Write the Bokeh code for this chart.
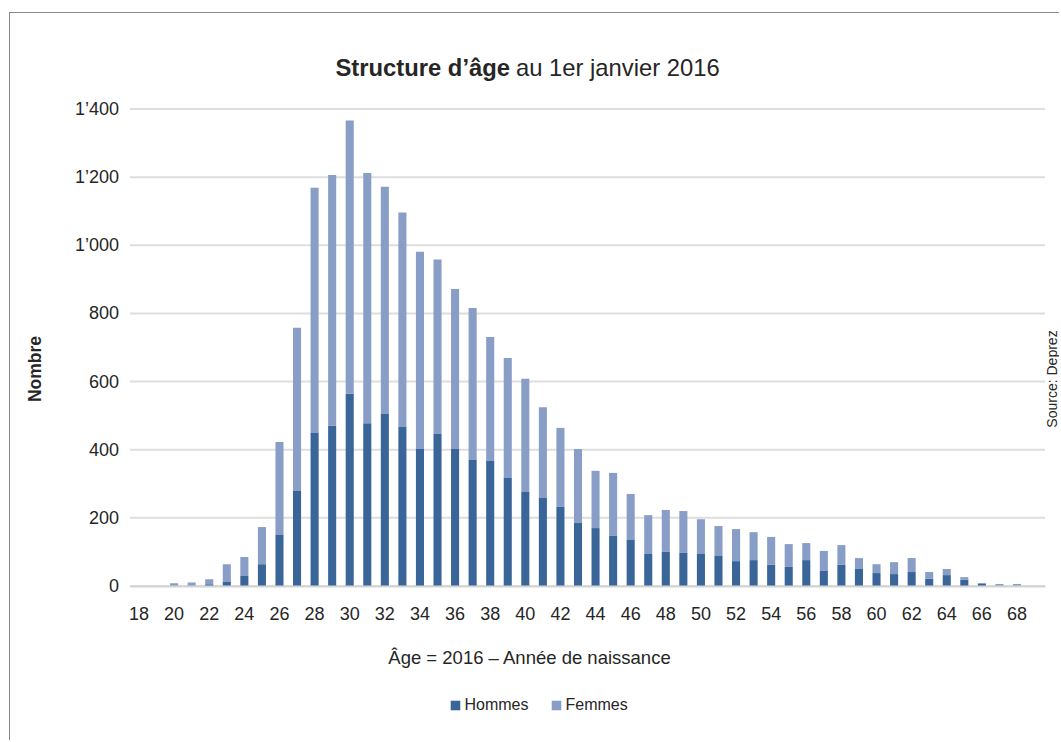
import math
from bokeh.plotting import figure
from bokeh.models import (ColumnDataSource, Label, Legend, LegendItem, FixedTicker,
                          Range1d)
from bokeh.embed import file_html
from bokeh.resources import INLINE

# ---------------- data ----------------
ages = list(range(20, 69))
hommes = [0, 0, 5, 12, 29, 64, 150, 279, 449, 470,
          564, 478, 505, 467, 402, 446, 402, 370, 367, 317,
          276, 258, 232, 185, 170, 147, 135, 94, 100, 97,
          94, 88, 73, 76, 62, 56, 76, 44, 62, 50,
          38, 35, 41, 21, 32, 18, 6, 0, 0]
femmes = [8, 10, 15, 52, 56, 109, 273, 479, 720, 736,
          802, 734, 667, 629, 579, 512, 470, 446, 364, 352,
          332, 267, 232, 217, 168, 185, 135, 114, 123, 123,
          102, 88, 94, 82, 82, 67, 50, 59, 58, 32,
          26, 35, 41, 20, 18, 8, 3, 6, 6]
series = ["Hommes", "Femmes"]
x_ticks = list(range(18, 69, 2))
y_ticks = [0, 200, 400, 600, 800, 1000, 1200, 1400]
y_tick_labels = ["0", "200", "400", "600", "800", "1’000", "1’200", "1’400"]

title_bold = "Structure d’âge"
title_rest = "au 1er janvier 2016"
x_title = "Âge = 2016 – Année de naissance"
y_title = "Nombre"
source_note = "Source: Deprez"

# ---------------- styles / layout ----------------
C_H = "#3a6599"
C_F = "#899ec6"
TXT = "#262626"
FONT = "Liberation Sans"
GRID = "#dedede"

W, H = 1050, 728          # canvas size
OX, OY = 10.5, 13.5       # canvas origin on the page
PX_PER_X = 17.56          # px per year
PX_PER_Y = 477 / 1400     # px per person
X_REF_PX, Y_ZERO_PX = 139, 586   # page px of age 18 and of value 0

def dx(px):
    return 18 + (px - X_REF_PX) / PX_PER_X

def dy(py):
    return (Y_ZERO_PX - py) / PX_PER_Y

X0, X1 = dx(OX), dx(OX + W)
Y0, Y1 = dy(OY + H), dy(OY)
PLOT_L, PLOT_R = dx(130), dx(1045)

src = ColumnDataSource(dict(age=ages, Hommes=hommes, Femmes=femmes))

p = figure(width=W, height=H, output_backend="svg", toolbar_location=None,
           x_range=Range1d(X0, X1), y_range=Range1d(Y0, Y1),
           min_border_left=0, min_border_right=0, min_border_top=0,
           min_border_bottom=0)
p.styles = {"margin-left": "9px", "margin-top": "12px",
            "border-left": "1.5px solid #8a8a8a", "border-top": "1.5px solid #8a8a8a"}
p.outline_line_color = None
p.background_fill_color = "white"
p.border_fill_color = "white"
p.xgrid.grid_line_color = None
p.ygrid.grid_line_color = None

# horizontal gridlines at the y ticks, spanning the plot area only
p.segment(x0=[PLOT_L] * len(y_ticks), x1=[PLOT_R] * len(y_ticks),
          y0=y_ticks, y1=y_ticks, line_color=GRID, line_width=2)

rs = p.vbar_stack(series, x="age", width=0.46, source=src, color=[C_H, C_F],
                  line_color=None)

# axes (fixed inside the frame so surrounding texts are not clipped)
p.xaxis.fixed_location = 0
p.xaxis.bounds = (PLOT_L, PLOT_R)
p.yaxis.fixed_location = PLOT_L
p.yaxis.bounds = (0, 1400)
p.xaxis.ticker = FixedTicker(ticks=x_ticks)
p.yaxis.ticker = FixedTicker(ticks=y_ticks)
p.yaxis.major_label_overrides = {t: l for t, l in zip(y_ticks, y_tick_labels)}
for ax in (p.xaxis[0], p.yaxis[0]):
    ax.major_tick_line_color = None
    ax.minor_tick_line_color = None
    ax.major_label_text_font = FONT
    ax.major_label_text_font_size = "18px"
    ax.major_label_text_color = TXT
p.yaxis.axis_line_color = None
p.yaxis.major_label_standoff = 5
p.xaxis.axis_line_color = "#d4d4d4"
p.xaxis.axis_line_width = 2
p.xaxis.major_label_standoff = 15

# texts
p.add_layout(Label(x=dx(510), y=dy(67), text=title_bold, text_align="right",
                   text_baseline="middle", text_font=FONT, text_font_size="23.8px",
                   text_font_style="bold", text_color=TXT))
p.add_layout(Label(x=dx(516), y=dy(67), text=title_rest, text_align="left",
                   text_baseline="middle", text_font=FONT, text_font_size="23.8px",
                   text_color=TXT))
p.add_layout(Label(x=dx(530), y=dy(657), text=x_title, text_align="center",
                   text_baseline="middle", text_font=FONT, text_font_size="18.5px",
                   text_color=TXT))
p.add_layout(Label(x=dx(35), y=dy(369), text=y_title, text_align="center",
                   text_baseline="middle", text_font=FONT, text_font_size="17.5px",
                   text_font_style="bold", text_color=TXT, angle=math.pi / 2))
p.add_layout(Label(x=dx(1052), y=dy(379), text=source_note, text_align="center",
                   text_baseline="middle", text_font=FONT, text_font_size="14px",
                   text_color=TXT, angle=math.pi / 2))

legend = Legend(items=[LegendItem(label=s, renderers=[r]) for s, r in zip(series, rs)],
                orientation="horizontal", location=(449 - OX, (OY + H) - 714),
                glyph_width=12, glyph_height=12, label_standoff=4, spacing=21,
                padding=0, margin=0, border_line_color=None,
                background_fill_alpha=0, label_text_font=FONT,
                label_text_font_size="16px", label_text_color=TXT,
                label_text_baseline="middle")
p.add_layout(legend)

open("out.html", "w").write(file_html(p, INLINE))
